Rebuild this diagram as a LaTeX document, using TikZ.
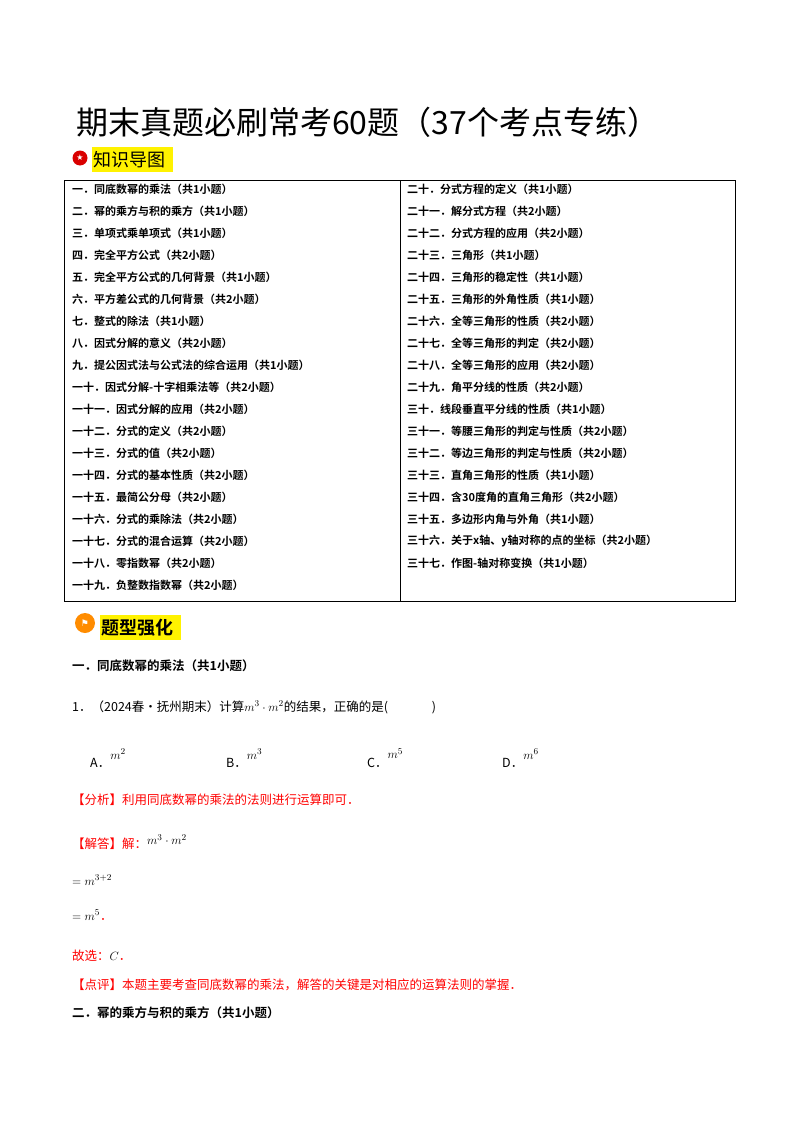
\documentclass[tikz,border=0pt]{standalone}
\usepackage{fontspec}
\setmainfont{Liberation Serif}
\newfontfamily\cjk{Noto Sans CJK SC}
\newfontfamily\cjkb{Noto Sans CJK SC Bold}
\newfontfamily\symf{DejaVu Sans}
\begin{document}
\begin{tikzpicture}[x=1pt,y=-1pt,
  row/.style={anchor=west,inner sep=0pt,font=\fontsize{11}{12}\selectfont\cjkb},
  body/.style={anchor=west,inner sep=0pt,font=\fontsize{12.5}{14}\selectfont\cjk},
  red/.style={body,text=red}]
\useasboundingbox (0,0) rectangle (800,1132);
\fill[white] (0,0) rectangle (800,1132);
\node[anchor=west,inner sep=0pt,font=\fontsize{32}{36}\selectfont\cjk] (title) at (76,122) {期末真题必刷常考60题（37个考点专练）};
\fill[yellow] (92,147) rectangle (173,172);
\node[circle,fill=red!85!black,minimum size=15pt,inner sep=0pt,text=white,font=\footnotesize\symf] (ic1) at (80,158) {★};
\node[anchor=west,inner sep=0pt,font=\fontsize{18}{20}\selectfont\cjk] (h1) at (93,160) {知识导图};
\draw[line width=0.8pt] (64,180) rectangle (735,601);
\draw (400,180) -- (400,601);
\foreach \t [count=\i] in {一．同底数幂的乘法（共1小题）,二．幂的乘方与积的乘方（共1小题）,三．单项式乘单项式（共1小题）,四．完全平方公式（共2小题）,五．完全平方公式的几何背景（共1小题）,六．平方差公式的几何背景（共2小题）,七．整式的除法（共1小题）,八．因式分解的意义（共2小题）,九．提公因式法与公式法的综合运用（共1小题）,一十．因式分解-十字相乘法等（共2小题）,一十一．因式分解的应用（共2小题）,一十二．分式的定义（共2小题）,一十三．分式的值（共2小题）,一十四．分式的基本性质（共2小题）,一十五．最简公分母（共2小题）,一十六．分式的乘除法（共2小题）,一十七．分式的混合运算（共2小题）,一十八．零指数幂（共2小题）,一十九．负整数指数幂（共2小题）}
  \node[row] (l\i) at (72,{189+22*(\i-1)}) {\t};
\foreach \t [count=\i] in {二十．分式方程的定义（共1小题）,二十一．解分式方程（共2小题）,二十二．分式方程的应用（共2小题）,二十三．三角形（共1小题）,二十四．三角形的稳定性（共1小题）,二十五．三角形的外角性质（共1小题）,二十六．全等三角形的性质（共2小题）,二十七．全等三角形的判定（共2小题）,二十八．全等三角形的应用（共2小题）,二十九．角平分线的性质（共2小题）,三十．线段垂直平分线的性质（共1小题）,三十一．等腰三角形的判定与性质（共2小题）,三十二．等边三角形的判定与性质（共2小题）,三十三．直角三角形的性质（共1小题）,三十四．含30度角的直角三角形（共2小题）,三十五．多边形内角与外角（共1小题）,三十六．关于x轴、y轴对称的点的坐标（共2小题）,三十七．作图-轴对称变换（共1小题）}
  \node[row] (r\i) at (407,{189+22*(\i-1)}) {\t};
\fill[yellow] (100,615) rectangle (181,640);
\node[circle,fill=orange!90!yellow,minimum size=20pt,inner sep=0pt,text=white,font=\small\symf] (ic2) at (85,623) {⚑};
\node[anchor=west,inner sep=0pt,font=\fontsize{18}{20}\selectfont\cjkb] (h2) at (101,628) {题型强化};
\node[row,font=\fontsize{12.5}{14}\selectfont\cjkb] (s1) at (72,666) {一．同底数幂的乘法（共1小题）};
\node[body] (q1) at (72,707) {1．（2024春•抚州期末）计算$m^3\cdot m^2$的结果，正确的是(\hspace{3.5em})};
\node[body] (oa) at (90,758) {A．\raisebox{1.2ex}{$m^2$}};
\node[body] (ob) at (226,758) {B．\raisebox{1.2ex}{$m^3$}};
\node[body] (oc) at (367,758) {C．\raisebox{1.2ex}{$m^5$}};
\node[body] (od) at (502,758) {D．\raisebox{1.2ex}{$m^6$}};
\node[red] (fx) at (72,800) {【分析】利用同底数幂的乘法的法则进行运算即可．};
\node[body] (jd) at (72,842) {\textcolor{red}{【解答】解：}\raisebox{0.5ex}{$m^3\cdot m^2$}};
\node[body] (e1) at (72,880) {$=m^{3+2}$};
\node[body] (e2) at (72,915) {$=m^5$\textcolor{red}{．}};
\node[body] (gx) at (72,956) {\textcolor{red}{故选：}$C$\textcolor{red}{．}};
\node[red] (dp) at (72,985) {【点评】本题主要考查同底数幂的乘法，解答的关键是对相应的运算法则的掌握．};
\node[row,font=\fontsize{12.5}{14}\selectfont\cjkb] (s2) at (72,1013) {二．幂的乘方与积的乘方（共1小题）};
\end{tikzpicture}
\end{document}
